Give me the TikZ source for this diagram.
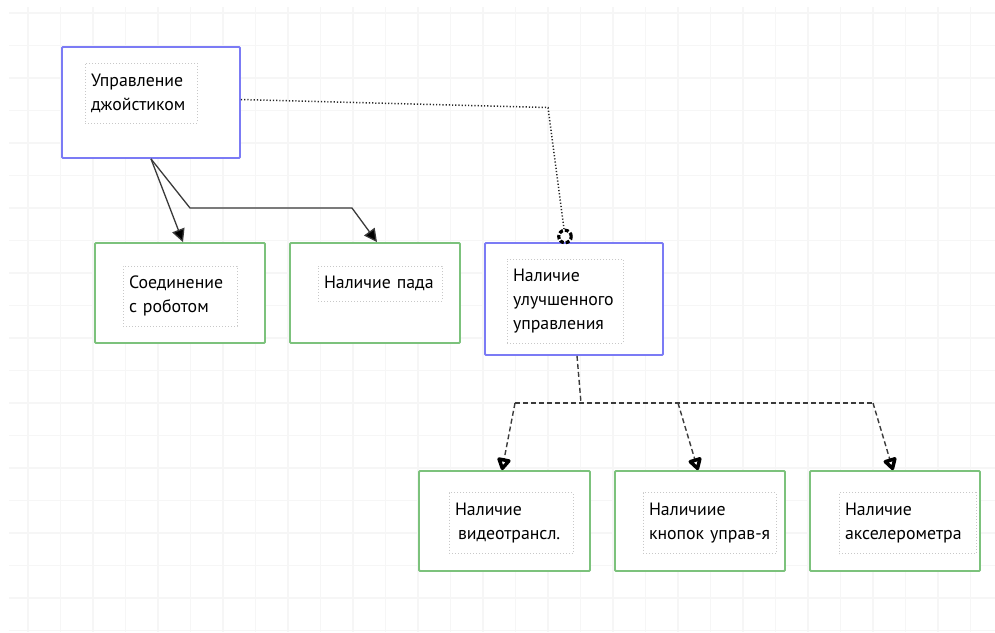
\documentclass[tikz,border=0pt]{standalone}
\usepackage{fontspec}
\setmainfont{PT Sans}
\usetikzlibrary{arrows.meta}
\definecolor{gridc}{HTML}{F6F6F6}
\definecolor{bluebox}{HTML}{7B7BF5}
\definecolor{greenbox}{HTML}{7CC27C}
\definecolor{dotc}{HTML}{C8C8C8}
\definecolor{wire}{HTML}{3A3A3A}
\newcommand{\lbline}[1]{\mbox{#1}}
\begin{document}
\begin{tikzpicture}[x=1pt,y=-1pt,
  box/.style={draw=#1, line width=1.8pt, rounded corners=1pt, inner sep=0pt, fill=white},
  lab/.style={draw=dotc, line width=1pt, dash pattern=on 1pt off 2pt, inner xsep=6pt, inner ysep=0pt,
    align=left, font=\fontsize{17.8}{24}\selectfont, text=black},
  solidlink/.style={draw=wire, line width=1.3pt, -{Triangle[length=13pt,width=13pt,fill=black]}},
  dotlink/.style={draw=black!85, line width=1.5pt, dash pattern=on 1.2pt off 2pt},
  dashlink/.style={draw=wire, line width=1.4pt, dash pattern=on 5pt off 3pt},
  dasharrow/.style={dashlink, -{Triangle[open,round,length=14pt,width=15pt,line width=4pt,color=black]}}
]
\useasboundingbox (0,0) rectangle (995,632);
% background grid
\foreach \gx in {28,60.5,...,995} \draw[gridc, line width=1.2pt] (\gx,7) -- (\gx,632);
\foreach \gy in {13,45.5,...,632} \draw[gridc, line width=1.2pt] (9,\gy) -- (995,\gy);

% boxes
\node[box=bluebox, minimum width=178pt, minimum height=111pt] (joy) at (151,102.5) {};
\node[box=greenbox, minimum width=170pt, minimum height=100pt] (sv) at (180,293) {};
\node[box=greenbox, minimum width=170pt, minimum height=100pt] (pad) at (375,293) {};
\node[box=bluebox, minimum width=178pt, minimum height=112pt] (upr) at (574,299) {};
\node[box=greenbox, minimum width=171pt, minimum height=100pt] (vid) at (504.5,521) {};
\node[box=greenbox, minimum width=170pt, minimum height=100pt] (btn) at (700,521) {};
\node[box=greenbox, minimum width=170pt, minimum height=100pt] (acc) at (895,521) {};

% labels in dotted frames
\node[lab, text width=100pt, minimum height=60pt] (joyt) at (141,93) {\lbline{Управление}\\\lbline{джойстиком}};
\node[lab, text width=102pt, minimum height=60pt] (svt) at (180,296) {\lbline{Соединение}\\\lbline{с роботом}};
\node[lab, text width=112pt, minimum height=35pt] (padt) at (380,283.5) {\lbline{Наличие пада}};
\node[lab, text width=104pt, minimum height=84pt] (uprt) at (565,301) {\lbline{Наличие}\\\lbline{улучшенного}\\\lbline{управления}};
\node[lab, text width=112pt, minimum height=61pt] (vidt) at (511,523) {\lbline{Наличие}\\\lbline{\hspace*{3pt}видеотрансл.}};
\node[lab, text width=121pt, minimum height=61pt] (btnt) at (709.5,523) {\lbline{Наличиие}\\\lbline{кнопок управ-я}};
\node[lab, text width=125pt, minimum height=61pt] (acct) at (907.5,523) {\lbline{Наличие}\\\lbline{акселерометра}};

% solid connectors
\coordinate (b1) at (190,208);
\coordinate (b2) at (352,208);
\draw[solidlink] (joy.south) -- ([xshift=3pt]sv.north);
\draw[solidlink] (joy.south) -- (b1) -- (b2) -- ([xshift=2pt]pad.north);

% dotted connector with open circle end
\coordinate (d1) at (548,107.5);
\coordinate (d2) at (564,229);
\draw[dotlink] ([yshift=3pt]joy.east) -- (d1) -- (d2);
\node[circle, draw=black, line width=3.2pt, dash pattern=on 4pt off 2pt, minimum size=12.5pt, inner sep=0pt] (ring) at (565,236.5) {};

% dashed tree
\coordinate (t0) at (581,403);
\coordinate (tl) at (515,403);
\coordinate (tm) at (678,403);
\coordinate (tr) at (873,403);
\draw[dashlink] ([xshift=3pt]upr.south) -- (t0);
\draw[dashlink] (tl) -- (tr);
\draw[dasharrow] (tl) -- ([xshift=-2.5pt]vid.north);
\draw[dasharrow] (tm) -- ([xshift=-2pt]btn.north);
\draw[dasharrow] (tr) -- ([xshift=-2pt]acc.north);
\end{tikzpicture}
\end{document}
